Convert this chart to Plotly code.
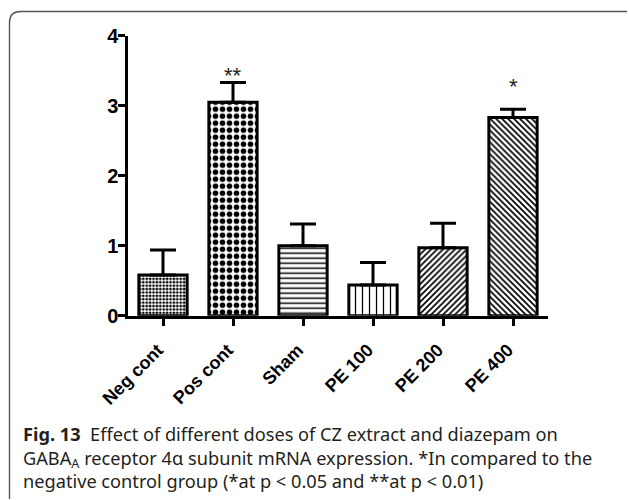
import plotly.graph_objects as go

# ---- data ----
categories = ["Neg cont", "Pos cont", "Sham", "PE 100", "PE 200", "PE 400"]
means = [0.58, 3.05, 1.00, 0.44, 0.97, 2.83]
sems = [0.36, 0.28, 0.31, 0.32, 0.35, 0.12]
significance = ["", "**", "", "", "", "*"]
y_ticks = [0, 1, 2, 3, 4]
caption_bold = "Fig. 13"
caption_lines = [
    "Effect of different doses of CZ extract and diazepam on",
    "GABA<sub>A</sub> receptor 4α subunit mRNA expression. *In compared to the",
    "negative control group (*at p < 0.05 and **at p < 0.01)",
]

# ---- styling ----
W, H = 629, 500
pat_shapes = [".", ".", "-", "|", "/", "\\"]
pat_sizes = [3.4, 7, 5, 7, 4.2, 4.2]
pat_solid = [0.5, 0.5, 0.3, 0.18, 0.4, 0.4]
sig_shift = [0, -7, 0, 0, 0, 8]


def px(x):
    return x / W


def py(y):
    return 1 - y / H


AX_FONT = dict(family="Liberation Sans, Arial", size=20, color="black", weight="bold")

fig = go.Figure()
fig.add_trace(go.Bar(
    x=categories,
    y=means,
    width=0.69,
    marker=dict(
        color="white",
        line=dict(color="black", width=3),
        pattern=dict(shape=pat_shapes, size=pat_sizes, solidity=pat_solid,
                     fgcolor="black", bgcolor="white", fillmode="replace"),
    ),
    error_y=dict(type="data", symmetric=False, array=sems,
                 arrayminus=[0] * len(sems), color="black",
                 thickness=3, width=13),
    showlegend=False,
))

annotations = []
for c, m, s, lab, sh in zip(categories, means, sems, significance, sig_shift):
    if lab:
        annotations.append(dict(
            x=c, y=m + s, xref="x", yref="y", text=lab, showarrow=False,
            yanchor="bottom", yshift=sh,
            font=dict(family="Liberation Sans, Arial", size=22, color="#222"),
        ))

cap_font = dict(family="Noto Sans", size=18.2, color="#231f20")
caption_text = ("<b>" + caption_bold + "</b>  " + caption_lines[0] + "<br>"
                + "<br>".join(caption_lines[1:]))
annotations.append(dict(
    x=px(21), y=py(457), xref="paper", yref="paper", xanchor="left",
    yanchor="middle", align="left", showarrow=False,
    text=caption_text, font=cap_font))

# frame (rounded top-left corner, open at bottom and right)
r = 11
frame_path = (
    f"M {px(9.5)},{py(499)} L {px(9.5)},{py(11.5 + r)} "
    f"Q {px(9.5)},{py(11.5)} {px(9.5 + r)},{py(11.5)} L {px(627)},{py(11.5)}"
)

fig.update_layout(
    width=W, height=H,
    margin=dict(l=0, r=0, t=0, b=0, pad=0, autoexpand=False),
    paper_bgcolor="white", plot_bgcolor="white",
    xaxis=dict(
        domain=[px(128), px(548)], range=[-0.5, 5.5],
        showline=True, linecolor="black", linewidth=2.5,
        ticks="outside", ticklen=8, tickwidth=2.5, tickcolor="black",
        tickangle=-45, ticklabelshift=-5, ticklabelstandoff=6,
        tickfont=dict(family="Liberation Sans, Arial", size=18,
                      color="black", weight="bold"),
        showgrid=False, zeroline=False, fixedrange=True, automargin=False,
    ),
    yaxis=dict(
        domain=[py(315.7), py(35.7)], range=[0, 4],
        tickvals=y_ticks, ticktext=[str(v) for v in y_ticks],
        showline=True, linecolor="black", linewidth=2.5,
        ticks="outside", ticklen=7, tickwidth=2.5, tickcolor="black",
        ticklabelstandoff=-4,
        tickfont=AX_FONT, showgrid=False, zeroline=False, fixedrange=True,
        automargin=False,
    ),
    annotations=annotations,
    shapes=[dict(type="path", path=frame_path, xref="paper", yref="paper",
                 line=dict(color="#555555", width=1.4))],
)

fig.write_html(
    "out.html",
    config={"displayModeBar": False},
    post_script="document.body.style.margin='0';document.body.style.overflow='hidden';",
)
